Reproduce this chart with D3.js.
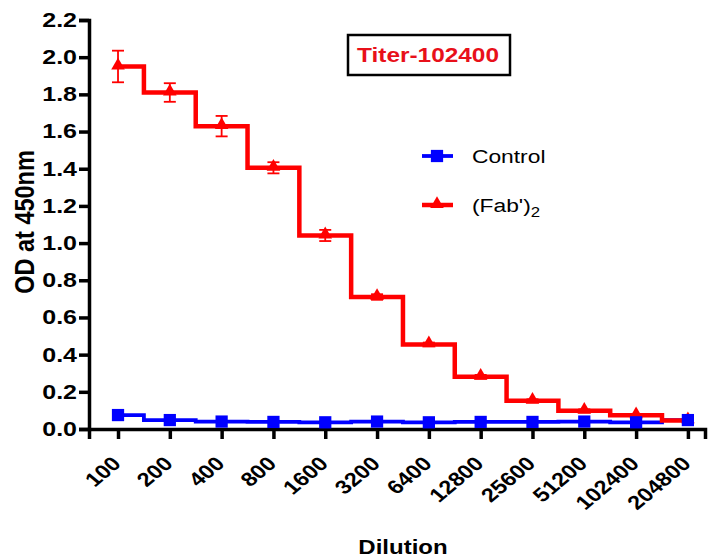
<!DOCTYPE html>
<html>
<head>
<meta charset="utf-8">
<script src="https://cdn.jsdelivr.net/npm/d3@7"></script>
<style>
  body { margin: 0; background: #fff; }
  svg { font-family: Arial, "Liberation Sans", sans-serif; }
</style>
</head>
<body>
<svg id="plot" width="709" height="558"></svg>
<script>
var dilutions = ["100", "200", "400", "800", "1600", "3200", "6400", "12800", "25600", "51200", "102400", "204800"];
var controlOD = [0.075, 0.048, 0.040, 0.038, 0.036, 0.040, 0.036, 0.038, 0.038, 0.040, 0.036, 0.048];
var fabOD = [1.95, 1.81, 1.629, 1.405, 1.041, 0.71, 0.455, 0.281, 0.152, 0.098, 0.074, 0.046];
var fabErr = [0.085, 0.05, 0.055, 0.03, 0.03, 0.015, 0.01, 0.01, 0.008, 0.008, 0.006, 0.005];
var yTicks = [0.0, 0.2, 0.4, 0.6, 0.8, 1.0, 1.2, 1.4, 1.6, 1.8, 2.0, 2.2];

var svg = d3.select("#plot");
var font = "Arial, 'Liberation Sans', sans-serif";
var stretch = 1.2; // the reference text is a bit wider than plain Arial

var xScale = d3.scaleLinear()
    .domain([-0.56, 11.33])
    .range([89, 705]);

var yScale = d3.scaleLinear()
    .domain([0, 2.2])
    .range([429, 20]);

// axes
var xAxis = svg.append("g")
    .attr("transform", "translate(0,429)")
    .call(d3.axisBottom(xScale)
        .tickValues(d3.range(dilutions.length))
        .tickFormat(function(i){ return dilutions[i]; })
        .tickSizeOuter(0)
        .tickSize(10))
    .attr("font-family", font);

xAxis.select(".domain").attr("stroke-width", 3.5);
xAxis.selectAll(".tick line").attr("stroke-width", 3.5);
xAxis.selectAll(".tick text")
    .attr("font-size", "19.5px")
    .attr("font-weight", "bold")
    .attr("fill", "#000")
    .attr("text-anchor", "end")
    .attr("x", 0)
    .attr("y", 0)
    .attr("dy", "0.35em")
    .attr("transform", "translate(-2,31) scale(" + stretch + ",1) rotate(-45)");

var yAxis = svg.append("g")
    .attr("transform", "translate(89,0)")
    .call(d3.axisLeft(yScale)
        .tickValues(yTicks)
        .tickFormat(d3.format(".1f"))
        .tickSizeOuter(0)
        .tickSize(10))
    .attr("font-family", font);

yAxis.select(".domain").attr("stroke-width", 3.5);
yAxis.selectAll(".tick line").attr("stroke-width", 3.5);
yAxis.selectAll(".tick text")
    .attr("font-size", "20px")
    .attr("font-weight", "bold")
    .attr("fill", "#000")
    .attr("x", -12 / 1.25)
    .attr("transform", "scale(1.25,1)");

// step lines
var line = d3.line()
    .x(function(d, i){ return xScale(i); })
    .y(function(d){ return yScale(d); })
    .curve(d3.curveStep);

svg.append("path")
    .datum(controlOD)
    .attr("fill", "none")
    .attr("stroke", "#0000ff")
    .attr("stroke-width", 3.8)
    .attr("d", line);

svg.append("path")
    .datum(fabOD)
    .attr("fill", "none")
    .attr("stroke", "#ff0000")
    .attr("stroke-width", 4.5)
    .attr("d", line);

// error bars for (Fab')2
var errG = svg.append("g")
    .attr("stroke", "#ff0000")
    .attr("stroke-width", 1.8);

errG.selectAll("line.v")
    .data(fabOD)
    .enter()
    .append("line")
    .attr("x1", function(d, i){ return xScale(i); })
    .attr("x2", function(d, i){ return xScale(i); })
    .attr("y1", function(d, i){ return yScale(d + fabErr[i]); })
    .attr("y2", function(d, i){ return yScale(d - fabErr[i]); });

errG.selectAll("line.top")
    .data(fabOD)
    .enter()
    .append("line")
    .attr("x1", function(d, i){ return xScale(i) - 6; })
    .attr("x2", function(d, i){ return xScale(i) + 6; })
    .attr("y1", function(d, i){ return yScale(d + fabErr[i]); })
    .attr("y2", function(d, i){ return yScale(d + fabErr[i]); });

errG.selectAll("line.bot")
    .data(fabOD)
    .enter()
    .append("line")
    .attr("x1", function(d, i){ return xScale(i) - 6; })
    .attr("x2", function(d, i){ return xScale(i) + 6; })
    .attr("y1", function(d, i){ return yScale(d - fabErr[i]); })
    .attr("y2", function(d, i){ return yScale(d - fabErr[i]); });

var triangle = d3.symbol().type(d3.symbolTriangle).size(80);
var square = d3.symbol().type(d3.symbolSquare).size(150);

svg.append("g").selectAll("path")
    .data(fabOD)
    .enter()
    .append("path")
    .attr("d", triangle)
    .attr("fill", "#ff0000")
    .attr("transform", function(d, i){
        return "translate(" + xScale(i) + "," + (yScale(d) - 1) + ")";
    });

svg.append("g").selectAll("path")
    .data(controlOD)
    .enter()
    .append("path")
    .attr("d", square)
    .attr("fill", "#0000ff")
    .attr("transform", function(d, i){
        return "translate(" + xScale(i) + "," + yScale(d) + ")";
    });

// titer box
svg.append("rect")
    .attr("x", 348)
    .attr("y", 35)
    .attr("width", 162)
    .attr("height", 40)
    .attr("fill", "#fff")
    .attr("stroke", "#000")
    .attr("stroke-width", 2.5);

svg.append("text")
    .attr("transform", "translate(428,62) scale(1.22,1)")
    .attr("text-anchor", "middle")
    .attr("font-size", "20px")
    .attr("font-weight", "bold")
    .attr("fill", "#e8101a")
    .text("Titer-102400");

// legend
var legend = svg.append("g");

legend.append("line")
    .attr("x1", 422).attr("x2", 453)
    .attr("y1", 156).attr("y2", 156)
    .attr("stroke", "#0000ff").attr("stroke-width", 3.8);
legend.append("path")
    .attr("d", square)
    .attr("fill", "#0000ff")
    .attr("transform", "translate(437,156)");
legend.append("text")
    .attr("transform", "translate(472,163) scale(" + stretch + ",1)")
    .attr("font-size", "19px")
    .attr("fill", "#000")
    .text("Control");

legend.append("line")
    .attr("x1", 422).attr("x2", 453)
    .attr("y1", 205).attr("y2", 205)
    .attr("stroke", "#ff0000").attr("stroke-width", 4.5);
legend.append("path")
    .attr("d", triangle)
    .attr("fill", "#ff0000")
    .attr("transform", "translate(437,204)");
var fabText = legend.append("text")
    .attr("transform", "translate(472,212) scale(" + stretch + ",1)")
    .attr("font-size", "19px")
    .attr("fill", "#000");
fabText.append("tspan").text("(Fab')");
fabText.append("tspan").attr("font-size", "14px").attr("dy", 5).text("2");

// axis titles
svg.append("text")
    .attr("transform", "translate(24,222) scale(1.18,1) rotate(-90)")
    .attr("text-anchor", "middle")
    .attr("dy", "0.35em")
    .attr("font-size", "23.5px")
    .attr("font-weight", "bold")
    .attr("fill", "#000")
    .text("OD at 450nm");

svg.append("text")
    .attr("transform", "translate(403,554) scale(" + stretch + ",1)")
    .attr("text-anchor", "middle")
    .attr("font-size", "20px")
    .attr("font-weight", "bold")
    .attr("fill", "#000")
    .text("Dilution");
</script>
</body>
</html>
